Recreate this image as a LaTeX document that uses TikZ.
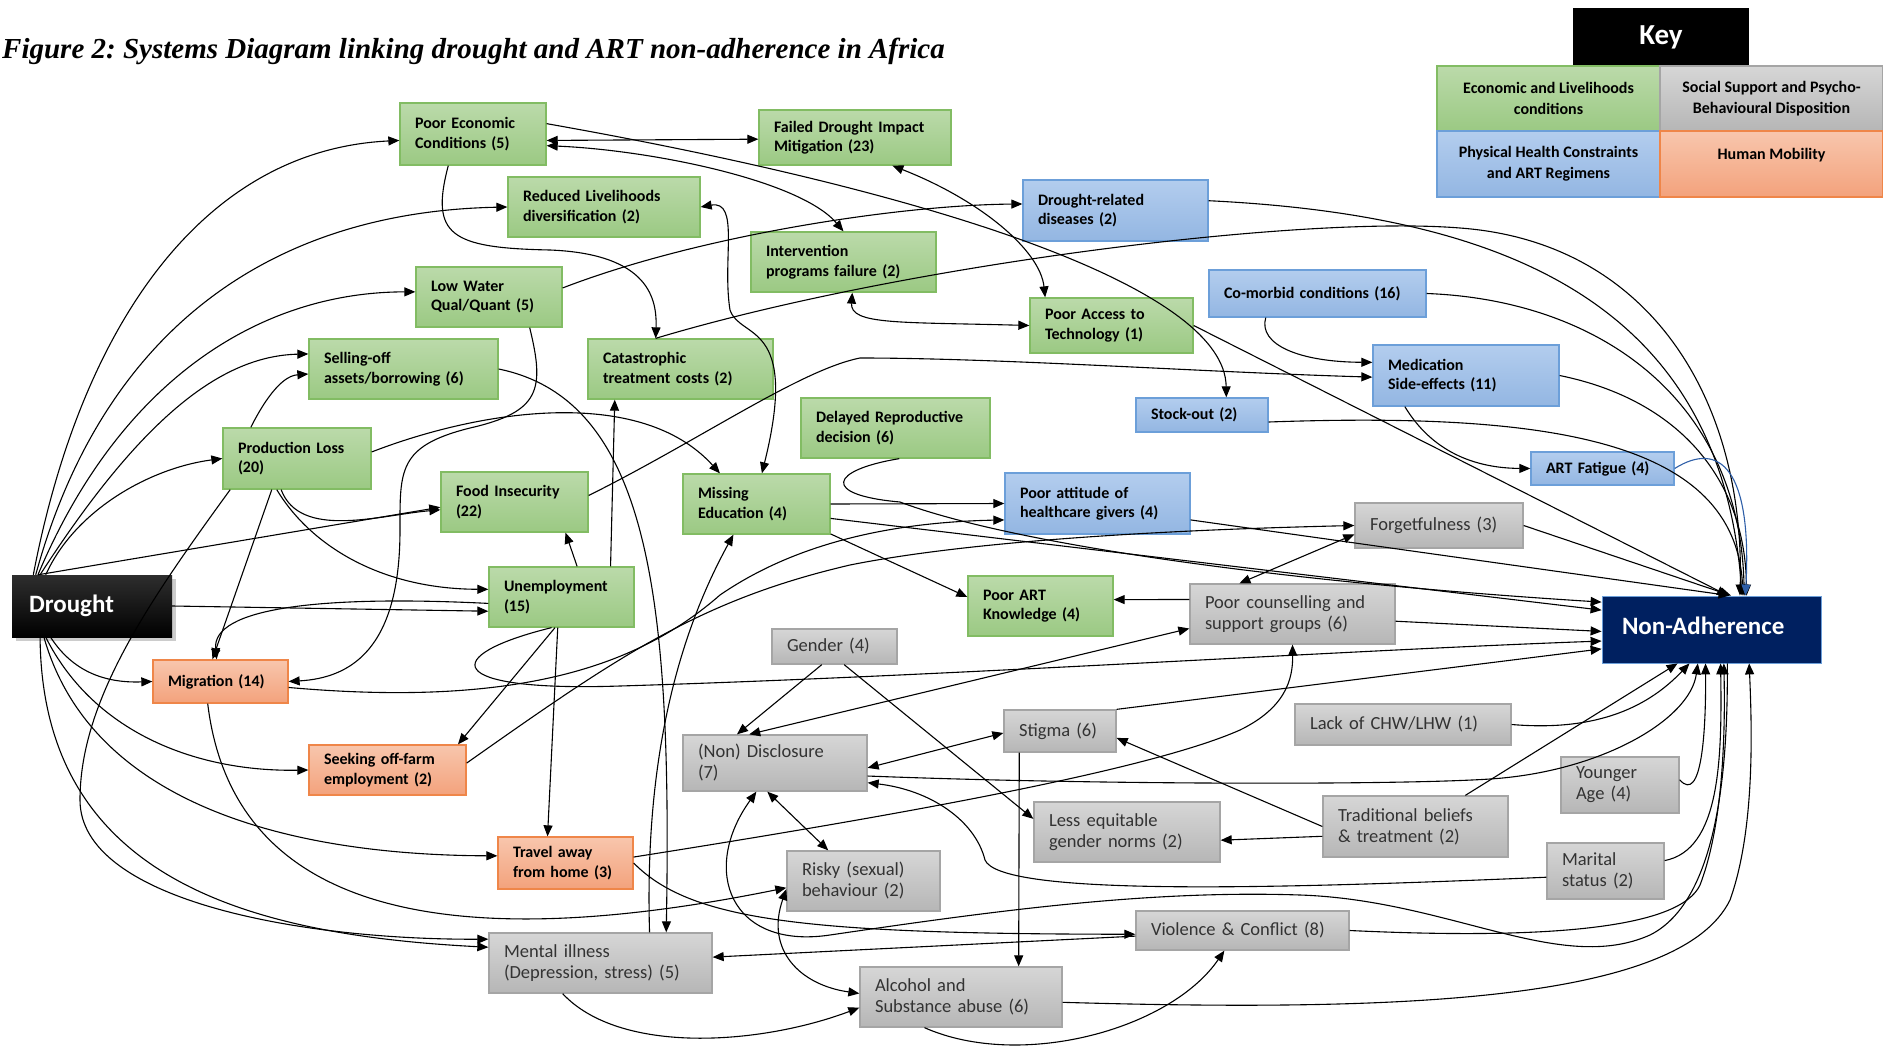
\documentclass[tikz,border=0pt]{standalone}
\usepackage{fontspec}
\setmainfont{Carlito}
\newfontfamily\titlefont{Liberation Serif}
\usetikzlibrary{arrows.meta,shadows}
\frenchspacing
\definecolor{ecoT}{HTML}{BBDAAA}
\definecolor{ecoB}{HTML}{9BC983}
\definecolor{ecoD}{HTML}{82BC63}
\definecolor{hltT}{HTML}{B3CDEE}
\definecolor{hltB}{HTML}{93B6E2}
\definecolor{hltD}{HTML}{6C9FD9}
\definecolor{socT}{HTML}{D6D6D6}
\definecolor{socB}{HTML}{B6B6B6}
\definecolor{socD}{HTML}{A5A5A5}
\definecolor{mobT}{HTML}{F8C6AD}
\definecolor{mobB}{HTML}{F3A27C}
\definecolor{mobD}{HTML}{EF8649}
\definecolor{navy}{HTML}{002060}
\definecolor{socTxt}{HTML}{333333}
\definecolor{fatigue}{HTML}{2F5FA8}
\newcommand\nb[7]{\pgfmathsetmacro\nbtw{#5-30}\node[#1, minimum width=#5pt, minimum height=#6pt, text width=\nbtw pt] (#2) at (#3,#4) {#7};}
\begin{document}
\begin{tikzpicture}[x=1pt,y=-1pt,
 box/.style={rectangle, inner sep=0pt, line width=1.3pt, align=left},
 eco/.style={box, draw=ecoD, top color=ecoT, bottom color=ecoB, font=\bfseries\fontsize{16}{19.5}\selectfont},
 hlt/.style={box, draw=hltD, top color=hltT, bottom color=hltB, font=\bfseries\fontsize{16}{19.5}\selectfont},
 mob/.style={box, draw=mobD, top color=mobT, bottom color=mobB, font=\bfseries\fontsize{16}{19.5}\selectfont},
 soc/.style={box, draw=socD, top color=socT, bottom color=socB, text=socTxt, font=\fontsize{18.5}{21}\selectfont},
 keycell/.style={rectangle, inner sep=0pt, line width=1.3pt, align=center, minimum width=223pt, minimum height=65pt, font=\bfseries\fontsize{16}{21}\selectfont},
 ar/.style={line width=1.1pt, -{Triangle[length=11pt,width=9pt]}},
 rar/.style={line width=1.1pt, {Triangle[length=11pt,width=9pt]}-},
 dar/.style={line width=1.1pt, {Triangle[length=11pt,width=9pt]}-{Triangle[length=11pt,width=9pt]}},
]
\useasboundingbox (0,0) rectangle (1883,1052);
\fill[white] (0,0) rectangle (1883,1052);

% title
\node[anchor=base west, inner sep=0pt, font=\titlefont\bfseries\itshape\fontsize{29}{32}\selectfont] (title) at (2,58) {Figure 2: Systems Diagram linking drought and ART non-adherence in Africa};

% key
\node[fill=black, minimum width=176pt, minimum height=58pt, inner sep=0pt, text=white, font=\bfseries\fontsize{29}{32}\selectfont] (key) at (1661,37) {\raisebox{-4pt}{Key}};
\node[keycell, draw=ecoD, top color=ecoT, bottom color=ecoB] (keyeco) at (1548.5,98.5) {Economic and Livelihoods\\conditions};
\node[keycell, draw=socD, top color=socT, bottom color=socB] (keysoc) at (1771.5,98.5) {Social Support and Psycho-\\Behavioural Disposition};
\node[keycell, draw=hltD, top color=hltT, bottom color=hltB, minimum height=66pt] (keyhlt) at (1548.5,164) {Physical Health Constraints\\and ART Regimens};
\node[keycell, draw=mobD, top color=mobT, bottom color=mobB, minimum height=66pt] (keymob) at (1771.5,164) {Human Mobility\\~};

% nodes
\nb{eco}{pec}{473}{134}{146}{62}{\mbox{Poor Economic}\\\mbox{Conditions (5)}}
\nb{eco}{fdim}{855}{137.5}{192}{55}{\mbox{Failed Drought Impact}\\\mbox{Mitigation (23)}}
\nb{eco}{rl}{604}{207}{192}{60}{\mbox{Reduced Livelihoods}\\\mbox{diversification (2)}}
\nb{eco}{ipf}{843.5}{262}{185}{60}{\mbox{Intervention}\\\mbox{programs failure (2)}}
\nb{hlt}{drd}{1115.5}{210.5}{185}{61}{\mbox{Drought-related}\\\mbox{diseases (2)}}
\nb{eco}{lw}{489}{297}{146}{60}{\mbox{Low Water}\\\mbox{Qual/Quant (5)}}
\nb{eco}{pat}{1111.5}{325.5}{163}{55}{\mbox{Poor Access to}\\\mbox{Technology (1)}}
\nb{hlt}{com}{1317.5}{293.5}{217}{47}{\mbox{Co-morbid conditions (16)}}
\nb{eco}{so}{403.5}{369}{189}{60}{\mbox{Selling-off}\\\mbox{assets/borrowing (6)}}
\nb{eco}{ctc}{680.5}{369}{185}{60}{\mbox{Catastrophic}\\\mbox{treatment costs (2)}}
\nb{hlt}{mse}{1466}{375.5}{186}{61}{\mbox{Medication}\\\mbox{Side-effects (11)}}
\nb{hlt}{sto}{1202}{415}{132}{34}{\mbox{Stock-out (2)}}
\nb{eco}{drp}{895.5}{428}{189}{60}{\mbox{Delayed Reproductive}\\\mbox{decision (6)}}
\nb{eco}{pl}{297}{458.5}{148}{61}{\mbox{Production Loss}\\\mbox{(20)}}
\nb{hlt}{artf}{1602.5}{468.5}{143}{33}{\mbox{ART Fatigue (4)}}
\nb{eco}{fi}{514.5}{502}{147}{60}{\mbox{Food Insecurity}\\\mbox{(22)}}
\nb{eco}{me}{756.5}{504}{147}{60}{\mbox{Missing}\\\mbox{Education (4)}}
\nb{hlt}{pahg}{1097.5}{503.5}{185}{61}{\mbox{Poor attitude of}\\\mbox{healthcare givers (4)}}
\nb{soc}{forg}{1439}{525.5}{168}{45}{\mbox{Forgetfulness (3)}}
\nb{eco}{unemp}{561.5}{597}{145}{60}{\mbox{Unemployment}\\\mbox{(15)}}
\nb{eco}{pak}{1040.5}{606}{145}{60}{\mbox{Poor ART}\\\mbox{Knowledge (4)}}
\nb{soc}{pcsg}{1292.5}{614}{205}{60}{\mbox{Poor counselling and}\\\mbox{support groups (6)}}
\nb{soc}{gender}{834.5}{646.5}{125}{35}{\mbox{Gender (4)}}
\nb{mob}{mig}{220.5}{681.5}{135}{43}{\mbox{Migration (14)}}
\nb{soc}{chw}{1403}{724.5}{216}{41}{\mbox{Lack of CHW/LHW (1)}}
\nb{soc}{stigma}{1060}{731}{112}{42}{\mbox{Stigma (6)}}
\nb{soc}{disc}{775}{763}{184}{56}{\mbox{(Non) Disclosure}\\\mbox{(7)}}
\nb{mob}{seek}{387.5}{770}{157}{50}{\mbox{Seeking off-farm}\\\mbox{employment (2)}}
\nb{soc}{ya}{1620}{785}{118}{56}{\mbox{Younger}\\\mbox{Age (4)}}
\nb{soc}{legn}{1127}{832}{186}{60}{\mbox{Less equitable}\\\mbox{gender norms (2)}}
\nb{soc}{tb}{1415.5}{826.5}{185}{61}{\mbox{Traditional beliefs}\\\mbox{\& treatment (2)}}
\nb{mob}{travel}{565.5}{863}{135}{52}{\mbox{Travel away}\\\mbox{from home (3)}}
\nb{soc}{risky}{863.5}{881}{153}{60}{\mbox{Risky (sexual)}\\\mbox{behaviour (2)}}
\nb{soc}{marital}{1605.5}{871}{117}{56}{\mbox{Marital}\\\mbox{status (2)}}
\nb{soc}{viol}{1242.5}{930.5}{213}{39}{\mbox{Violence \& Conflict (8)}}
\nb{soc}{mi}{600.5}{963}{223}{60}{\mbox{Mental illness}\\\mbox{(Depression, stress) (5)}}
\nb{soc}{alc}{961}{997}{202}{60}{\mbox{Alcohol and}\\\mbox{Substance abuse (6)}}

\node[rectangle, inner sep=0pt, minimum width=160pt, minimum height=62pt, text width=126pt, align=left, top color=black!82, bottom color=black, drop shadow={shadow xshift=4pt, shadow yshift=-4pt, opacity=0.4}, text=white, font=\bfseries\fontsize{25}{30}\selectfont] (drought) at (92,606) {\raisebox{4pt}{Drought}};
\node[rectangle, inner sep=0pt, minimum width=219pt, minimum height=67pt, text width=179pt, align=left, fill=navy, draw=hltD, line width=0.8pt, text=white, font=\bfseries\fontsize{25}{29}\selectfont] (na) at (1711.5,629.5) {\raisebox{8pt}{Non-Adherence}};

% ---- connectors ----
% Drought
\draw[ar] (drought.152) .. controls (80,330) and (200,150) .. (pec.185);
\draw[ar] (drought.151) .. controls (100,340) and (260,212) .. (rl.west);
\draw[ar] (drought.150) .. controls (120,380) and (260,292) .. (lw.176);
\draw[ar] (drought.149) .. controls (140,420) and (220,356) .. (so.171);
\draw[ar] (drought.150) -- (fi.184);
\draw[ar] (drought.146) .. controls (75,510) and (150,468) .. (pl.west);
\draw[ar] (drought.east) -- (unemp.191);
\draw[ar] (drought.217) .. controls (75,675) and (110,683) .. (mig.west);
\draw[ar] (drought.214) .. controls (95,735) and (200,772) .. (seek.west);
\draw[ar] (drought.213) .. controls (90,800) and (280,855) .. (travel.174);
\draw[ar] (drought.211) .. controls (42,880) and (250,935) .. (mi.172);
% Production loss
\draw[ar] (pl.146) .. controls (262,405) and (280,376) .. (so.183);
\draw[ar] (pl.231) -- (mig.110);
\draw[ar] (pl.237) .. controls (310,545) and (380,589) .. (unemp.174);
\draw[ar] (pl.243) .. controls (300,540) and (380,515) .. (fi.186);
\draw[ar] (pl.5) .. controls (480,410) and (640,385) .. (me.140);
\draw[ar] (pl.205) .. controls (150,600) and (80,700) .. (80,800) .. controls (80,900) and (300,940) .. (mi.168);
% Unemployment
\draw[ar] (unemp.63) -- (fi.-31);
\draw[ar] (unemp.32) -- (ctc.205);
\draw[ar] (unemp.258) -- (seek.20);
\draw[ar] (unemp.263) -- (travel.124);
\draw[ar] (unemp.185) .. controls (320,595) and (212,608) .. (mig.100);
\draw[ar] (unemp.252) .. controls (440,655) and (440,692) .. (620,686) .. controls (950,676) and (1350,650) .. (na.186);
% Migration / seeking
\draw[ar] (mig.-5) .. controls (520,708) and (640,665) .. (720,595) .. controls (800,540) and (900,522) .. (pahg.190);
\draw[ar] (mig.240) .. controls (235,930) and (480,950) .. (risky.185);
\draw[ar] (seek.5) .. controls (620,655) and (700,600) .. (850,565) .. controls (1000,535) and (1250,528) .. (forg.180);
% Low water
\draw[ar] (lw.7) .. controls (700,235) and (900,205) .. (drd.176);
\draw[ar] (lw.323) .. controls (545,390) and (540,412) .. (470,428) .. controls (398,446) and (400,470) .. (400,530) .. controls (400,650) and (350,678) .. (mig.east);
% Selling off, mental illness
\draw[ar] (so.east) .. controls (650,400) and (672,600) .. (mi.25);
\draw[ar] (mi.32) .. controls (645,780) and (670,650) .. (me.233);
% Catastrophic costs, poor economic
\draw[ar] (ctc.129) .. controls (900,265) and (1300,215) .. (1460,228) .. controls (1650,242) and (1745,400) .. (na.50);
\draw[dar] (pec.-5) -- (fdim.181);
\draw[dar] (pec.-9) .. controls (650,150) and (800,180) .. (ipf.north);
\draw[ar] (pec.8) .. controls (950,195) and (1225,290) .. (sto.36);
\draw[ar] (pec.232) .. controls (430,235) and (450,248) .. (550,250) .. controls (650,254) and (657,300) .. (ctc.129);
\draw[dar] (fdim.-37) .. controls (980,200) and (1040,250) .. (pat.157);
\draw[dar] (ipf.-74) .. controls (850,325) and (900,322) .. (pat.west);
\draw[dar] (rl.east) .. controls (740,200) and (722,260) .. (730,310) .. controls (740,340) and (800,320) .. (me.80);
\draw[ar] (fi.5) .. controls (700,440) and (800,370) .. (860,358) .. controls (1000,358) and (1200,372) .. (mse.181);
% Health
\draw[ar] (drd.6) .. controls (1500,215) and (1720,300) .. (na.48);
\draw[ar] (com.east) .. controls (1600,300) and (1740,400) .. (na.46);
\draw[ar] (com.205) .. controls (1258,345) and (1300,362) .. (mse.172);
\draw[ar] (mse.east) .. controls (1680,400) and (1745,480) .. (na.44);
\draw[ar] (mse.207) .. controls (1425,440) and (1460,468) .. (artf.west);
\draw[ar] (sto.-6) .. controls (1550,412) and (1735,440) .. (na.47);
\draw[ar, fatigue] (artf.east) .. controls (1720,440) and (1752,470) .. (na.45);
\draw[ar] (pat.east) -- (na.64);
\draw[ar] (pahg.-10) -- (na.62);
\draw[ar] (forg.east) -- (na.60);
% Delayed, education
\draw[ar] (drp.-83) .. controls (830,470) and (820,495) .. (900,502) .. controls (1000,540) and (1250,580) .. (na.166);
\draw[ar] (me.-11) -- (na.170);
\draw[ar] (me.east) -- (pahg.west);
\draw[ar] (me.-22) -- (pak.173);
% Counselling
\draw[ar] (pcsg.172) -- (pak.5);
\draw[dar] (pcsg.150) -- (forg.186);
\draw[ar] (pcsg.-4) -- (na.181);
\draw[dar] (disc.132) -- (pcsg.188);
\draw[ar] (travel.5) .. controls (900,815) and (1150,770) .. (1240,730) .. controls (1285,708) and (1293,680) .. (pcsg.south);
\draw[ar] (travel.0) .. controls (690,920) and (800,934) .. (viol.182);
% Gender, stigma, beliefs
\draw[ar] (gender.235) -- (disc.143);
\draw[ar] (gender.-62) -- (legn.172);
\draw[dar] (stigma.182) -- (disc.-3);
\draw[ar] (stigma.north east) -- (na.190);
\draw[ar] (stigma.208) -- (alc.28);
\draw[ar] (tb.west) -- (stigma.-7);
\draw[ar] (tb.186) -- (legn.-5);
\draw[ar] (tb.32) -- (na.225);
\draw[ar] (chw.east) .. controls (1600,732) and (1650,705) .. (na.237);
\draw[ar] (ya.5) .. controls (1702,805) and (1706,730) .. (na.260);
\draw[ar] (marital.10) .. controls (1720,850) and (1722,760) .. (na.285);
\draw[ar] (viol.east) .. controls (1550,940) and (1680,928) .. (1700,885) .. controls (1725,820) and (1725,720) .. (na.290);
\draw[ar] (alc.-3) .. controls (1400,1012) and (1680,1002) .. (1730,900) .. controls (1755,830) and (1752,730) .. (na.-42);
% Disclosure
\draw[ar] (disc.-8) .. controls (1100,785) and (1400,785) .. (1490,779) .. controls (1600,772) and (1690,720) .. (na.248);
\draw[ar] (marital.186) .. controls (1250,890) and (1000,895) .. (985,860) .. controls (975,820) and (930,790) .. (disc.-12);
\draw[rar] (disc.237) .. controls (700,870) and (730,950) .. (830,935) .. controls (1000,910) and (1150,890) .. (1300,895) .. controls (1450,900) and (1560,975) .. (1650,935) .. controls (1720,900) and (1728,760) .. (na.295);
\draw[dar] (disc.255) -- (risky.139);
\draw[dar] (risky.186) .. controls (765,950) and (800,985) .. (alc.178);
\draw[ar] (mi.219) .. controls (620,1055) and (760,1045) .. (alc.186);
\draw[ar] (alc.220) .. controls (1020,1070) and (1170,1030) .. (viol.228);
\draw[ar] (viol.183) -- (mi.3);
\end{tikzpicture}
\end{document}
